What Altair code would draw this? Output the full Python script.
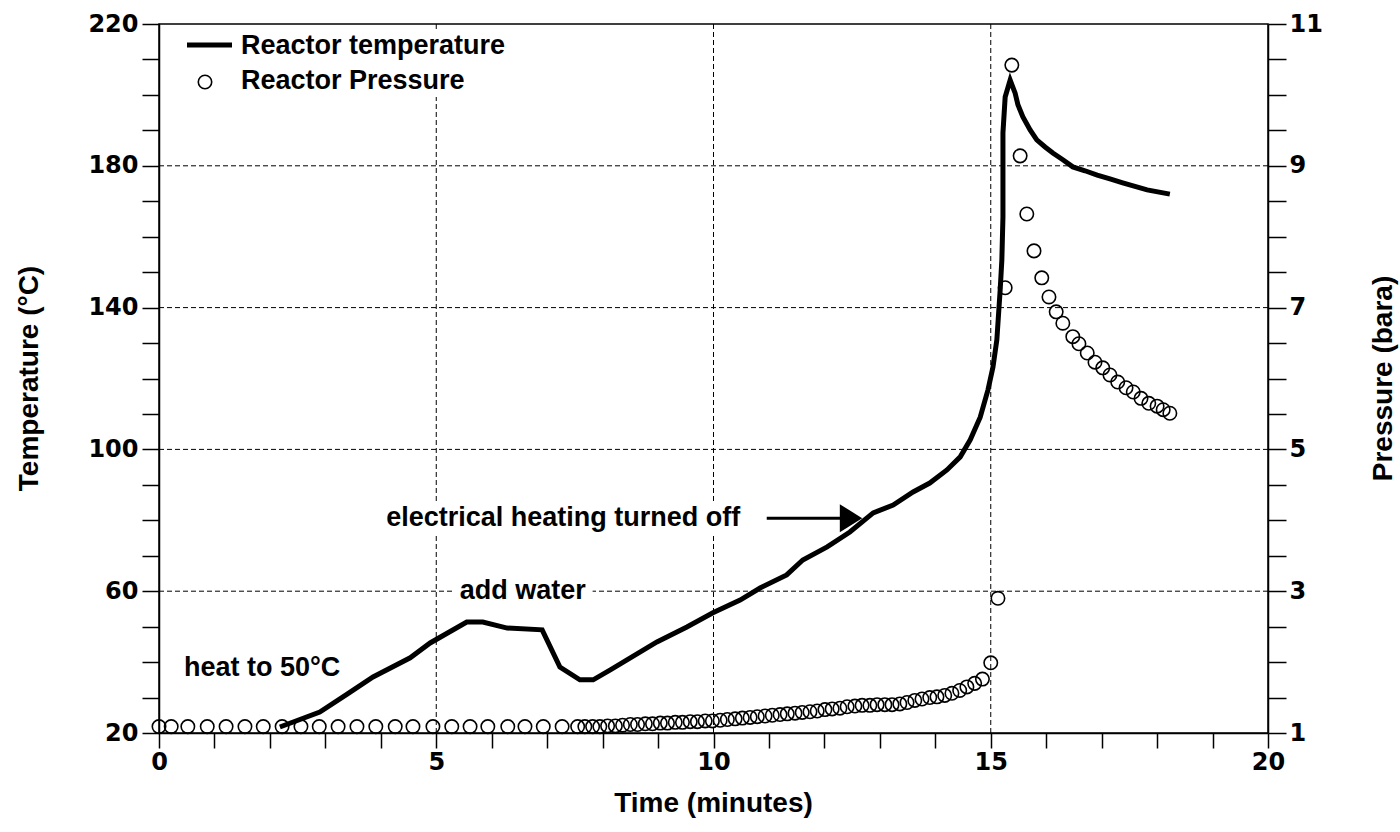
import altair as alt
import pandas as pd

# Reactor temperature trace: time (minutes) and temperature (°C)
temp_time = [2.18, 2.90, 3.38, 3.86, 4.53, 4.89, 5.55, 5.84, 6.28, 6.91, 7.23, 7.59, 7.83,
             8.14, 8.44, 8.98, 9.52, 9.99, 10.48, 10.84, 11.32, 11.61, 12.05, 12.46,
             12.88, 13.24, 13.60, 13.90, 14.21, 14.45, 14.63, 14.81, 14.95,
             15.04, 15.11, 15.17, 15.20, 15.22, 15.22, 15.22, 15.26, 15.35,
             15.44, 15.49, 15.58, 15.71, 15.83, 15.98, 16.12, 16.30, 16.48, 16.70,
             16.92, 17.15, 17.38, 17.82, 18.23]
temp_value = [21.7, 25.9, 30.8, 35.8, 41.2, 45.4, 51.3, 51.3, 49.6, 49.1, 38.6, 35.0, 35.0,
              37.8, 40.6, 45.7, 49.9, 53.9, 57.5, 60.9, 64.6, 68.8, 72.5, 76.7,
              82.1, 84.3, 88.0, 90.5, 94.2, 97.9, 102.7, 109.1, 116.8,
              123.2, 130.9, 145.0, 153.4, 165.6, 172.3, 189.3, 199.4, 204.2,
              200.5, 197.2, 193.8, 190.1, 187.3, 185.3, 183.6, 181.7, 179.7, 178.6,
              177.4, 176.3, 175.2, 173.2, 172.0]

# Reactor pressure samples: time (minutes) and pressure (bara)
press_time = [0.00, 0.22, 0.52, 0.87, 1.21, 1.55, 1.88, 2.22, 2.56, 2.89,
              3.23, 3.57, 3.91, 4.26, 4.58, 4.94, 5.28, 5.61, 5.93, 6.29,
              6.60, 6.93, 7.27,
              7.55, 7.68, 7.82, 7.95, 8.09, 8.23, 8.36, 8.50, 8.63, 8.77,
              8.90, 9.04, 9.17, 9.31, 9.44, 9.58, 9.71, 9.85, 9.98, 10.12,
              10.25, 10.39, 10.52, 10.66, 10.79, 10.93, 11.06, 11.20, 11.33, 11.47,
              11.60, 11.74, 11.87, 12.01, 12.14, 12.28, 12.41, 12.55, 12.68, 12.82,
              12.95, 13.09, 13.22, 13.36, 13.49, 13.63, 13.76, 13.90, 14.03, 14.17,
              14.30, 14.44, 14.57, 14.71, 14.85,
              15.00, 15.13, 15.26, 15.38, 15.53, 15.65, 15.78, 15.92, 16.05, 16.18,
              16.30, 16.48, 16.59, 16.74, 16.88, 17.02,
              17.15, 17.29, 17.44, 17.57, 17.71, 17.85, 18.00, 18.11, 18.23]
press_value = [1.09] * 23 + [
              1.09, 1.09, 1.09, 1.09, 1.10, 1.10, 1.11, 1.12, 1.12, 1.13,
              1.13, 1.14, 1.14, 1.15, 1.15, 1.16, 1.16, 1.17, 1.17, 1.18,
              1.19, 1.20, 1.21, 1.22, 1.23, 1.24, 1.25, 1.26, 1.27, 1.28,
              1.29, 1.30, 1.31, 1.33, 1.34, 1.35, 1.37, 1.38, 1.39, 1.39,
              1.40, 1.40, 1.40, 1.41, 1.43, 1.46, 1.48, 1.50, 1.51, 1.53,
              1.56, 1.60, 1.65, 1.70, 1.76,
              1.99, 2.90, 7.28, 10.42, 9.14, 8.32, 7.80, 7.42, 7.15, 6.94,
              6.78, 6.59, 6.49, 6.36, 6.23, 6.15,
              6.05, 5.95, 5.87, 5.81, 5.72, 5.65, 5.61, 5.56, 5.51]

# Axis ticks and dashed reference lines
time_ticks = list(range(0, 21))
temp_ticks = list(range(20, 221, 10))
press_ticks = [1 + 0.5 * k for k in range(21)]
grid_times = [5, 10, 15]
grid_temps = [60, 100, 140, 180]

# Annotations (time, temperature of the label centre)
note_text = ["heat to 50°C", "add water", "electrical heating turned off"]
note_time = [1.86, 6.56, 7.29]
note_temp = [38.3, 60.0, 80.6]

# White boxes behind the labels that sit on grid lines
box_t1 = [5.30, 3.90]
box_t2 = [7.82, 10.68]
box_T1 = [55.5, 75.9]
box_T2 = [64.6, 84.9]

# Arrow pointing at the moment the heater was switched off
arrow_t1, arrow_t2, arrow_T = 10.96, 12.48, 80.6

FONT = "Liberation Sans"
TICK_FONT = "DejaVu Sans"
BLACK = "#000000"

temp_df = pd.DataFrame({"t": temp_time, "T": temp_value, "i": range(len(temp_time))})
press_df = pd.DataFrame({"t": press_time, "P": press_value})
vgrid_df = pd.DataFrame({"t": grid_times})
hgrid_df = pd.DataFrame({"T": grid_temps})
note_df = pd.DataFrame({"t": note_time, "T": note_temp, "label": note_text})
box_df = pd.DataFrame({"t": box_t1, "t2": box_t2, "T": box_T1, "T2": box_T2})
arrow_df = pd.DataFrame({"t": [arrow_t1], "t2": [arrow_t2], "T": [arrow_T]})
head_df = pd.DataFrame({"t": [arrow_t2], "T": [arrow_T]})

x_scale = alt.Scale(domain=[0, 20], nice=False, zero=False)
t_scale = alt.Scale(domain=[20, 220], nice=False, zero=False)
p_scale = alt.Scale(domain=[1, 11], nice=False, zero=False)

x_axis = alt.Axis(
    values=time_ticks,
    labelExpr="datum.value % 5 == 0 ? format(datum.value, 'd') : ''",
    grid=False, tickSize=15, labelPadding=2, labelFlush=False, labelOverlap=False,
    title="Time (minutes)", titleX=554, titleY=70, titleBaseline="middle",
    titleAlign="center",
)
t_axis = alt.Axis(
    values=temp_ticks,
    labelExpr="datum.value % 40 == 20 ? format(datum.value, 'd') : ''",
    grid=False, tickSize=17, labelPadding=4, labelFlush=False, labelOverlap=False,
    title="Temperature (°C)", titleAngle=270, titleX=-130, titleY=354,
    titleAlign="center", titleBaseline="middle",
)
p_axis = alt.Axis(
    orient="right", values=press_ticks,
    labelExpr="(datum.value - 1) % 2 == 0 ? format(datum.value, 'd') : ''",
    grid=False, tickSize=18, labelPadding=3, labelFlush=False, labelOverlap=False,
    title="Pressure (bara)", titleAngle=270, titleX=115, titleY=354,
    titleAlign="center", titleBaseline="middle",
)

X = alt.X("t:Q", scale=x_scale, axis=x_axis)
Y = alt.Y("T:Q", scale=t_scale, axis=t_axis)

vgrid = alt.Chart(vgrid_df).mark_rule(color=BLACK, strokeWidth=1, strokeDash=[5, 3]).encode(x=X)
hgrid = alt.Chart(hgrid_df).mark_rule(color=BLACK, strokeWidth=1, strokeDash=[5, 3]).encode(y=Y)

boxes = alt.Chart(box_df).mark_rect(color="white").encode(x=X, x2="t2:Q", y=Y, y2="T2:Q")

temp_line = alt.Chart(temp_df).mark_line(color=BLACK, strokeWidth=5).encode(
    x=X, y=Y, order="i:Q"
)

notes = alt.Chart(note_df).mark_text(
    font=FONT, fontWeight="bold", fontSize=27, color=BLACK, align="center", baseline="middle"
).encode(x=X, y=Y, text="label:N")

arrow_shaft = alt.Chart(arrow_df).mark_rule(color=BLACK, strokeWidth=3).encode(x=X, x2="t2:Q", y=Y)
arrow_head = alt.Chart(head_df).mark_point(
    shape="M-0.8,-1L0.8,0L-0.8,1Z", filled=True, color=BLACK, opacity=1, size=784, strokeWidth=0
).encode(x=X, y=Y)

# Legend drawn in the top-left corner of the plot
legend_bg = alt.Chart(head_df).mark_rect(color="white").encode(
    x=alt.value(11), x2=alt.value(355), y=alt.value(6), y2=alt.value(73)
)
legend_line = alt.Chart(head_df).mark_rule(color=BLACK, strokeWidth=5).encode(
    x=alt.value(28), x2=alt.value(73), y=alt.value(21)
)
legend_dot = alt.Chart(head_df).mark_point(
    shape="circle", filled=False, color=BLACK, size=180, strokeWidth=1.6, opacity=1
).encode(x=alt.value(46), y=alt.value(58))
legend_txt1 = alt.Chart(head_df).mark_text(
    font=FONT, fontWeight="bold", fontSize=27, color=BLACK, align="left", baseline="middle",
    text="Reactor temperature"
).encode(x=alt.value(82), y=alt.value(22))
legend_txt2 = alt.Chart(head_df).mark_text(
    font=FONT, fontWeight="bold", fontSize=27, color=BLACK, align="left", baseline="middle",
    text="Reactor Pressure"
).encode(x=alt.value(82), y=alt.value(57))

press_pts = alt.Chart(press_df).mark_point(
    shape="circle", filled=False, color=BLACK, size=180, strokeWidth=1.6, opacity=1
).encode(
    x=X,
    y=alt.Y("P:Q", scale=p_scale, axis=p_axis),
)

temp_group = alt.layer(
    vgrid, hgrid, boxes, legend_bg, temp_line, arrow_shaft, arrow_head, notes,
    legend_line, legend_dot, legend_txt1, legend_txt2,
)

chart = alt.layer(temp_group, press_pts).resolve_scale(y="independent").properties(
    width=1109,
    height=709,
    autosize=alt.AutoSizeParams(type="none"),
    padding={"left": 159, "top": 24, "right": 132, "bottom": 99},
    background="white",
).configure_view(
    stroke=BLACK, strokeWidth=1.5
).configure_axis(
    domainColor=BLACK, domainWidth=1.5, tickColor=BLACK, tickWidth=1.5,
    labelFont=TICK_FONT, labelFontWeight="bold", labelFontSize=24, labelColor=BLACK,
    titleFont=FONT, titleFontWeight="bold", titleFontSize=28, titleColor=BLACK,
)

chart.save("out.html", embed_options={"renderer": "svg", "actions": False})
